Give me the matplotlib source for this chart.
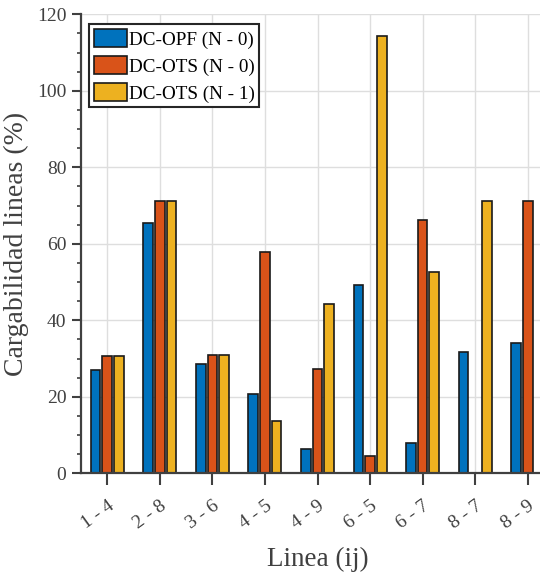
import numpy as np
from matplotlib import pyplot as plt

# Cargabilidad de lineas por caso
lineas = ['1 - 4', '2 - 8', '3 - 6', '4 - 5', '4 - 9', '6 - 5', '6 - 7', '8 - 7', '8 - 9']
opf_n0 = [26.9, 65.4, 28.5, 20.7, 6.4, 49.2, 7.8, 31.6, 34.0]
ots_n0 = [30.7, 71.2, 31.0, 57.8, 27.2, 4.4, 66.2, 0.0, 71.2]
ots_n1 = [30.7, 71.2, 31.0, 13.8, 44.2, 114.4, 52.7, 71.2, 0.0]
nombres = ['DC-OPF (N - 0)', 'DC-OTS (N - 0)', 'DC-OTS (N - 1)']

colores = ['#0072BD', '#D95319', '#EDB120']
gris = '#404040'

plt.rcParams['font.family'] = ['Liberation Serif', 'DejaVu Serif']

fig = plt.figure(figsize=(5.40, 5.77), dpi=100)
ax = fig.add_axes([0.150, 0.1797, 0.876, 0.7955])

x = np.arange(1, len(lineas) + 1)
ancho = 0.184
sep = 0.222
for k, serie in enumerate([opf_n0, ots_n0, ots_n1]):
    ax.bar(x + (k - 1) * sep, serie, ancho, color=colores[k], edgecolor='#1a1a1a',
           linewidth=1.2, label=nombres[k], zorder=3)

ax.set_xlim(0.5, 9.5)
ax.set_ylim(0, 120)
ax.set_xticks(x)
ax.set_xticklabels(lineas, rotation=36, ha='right', va='top', rotation_mode='anchor',
                   fontsize=14, color=gris)
ax.set_yticks(np.arange(0, 121, 20))
ax.set_yticks(np.arange(0, 121, 5), minor=True)
ax.tick_params(axis='y', labelsize=14, labelcolor=gris)

ax.tick_params(axis='y', which='major', direction='out', length=6.5, width=1.5, color=gris, pad=4)
ax.tick_params(axis='y', which='minor', direction='out', length=3, width=1.2, color=gris)
ax.tick_params(axis='x', which='major', direction='out', length=8.5, width=1.5, color=gris, pad=9)

ax.grid(True, which='major', color='#dedede', linewidth=1.0, zorder=0)
ax.set_axisbelow(True)

for lado in ['top', 'right']:
    ax.spines[lado].set_visible(False)
for lado in ['left', 'bottom']:
    ax.spines[lado].set_color(gris)
    ax.spines[lado].set_linewidth(1.6)
    ax.spines[lado].set_zorder(4)

ax.set_xlabel('Linea (ij)', fontsize=19.5, color=gris, labelpad=10)
ax.set_ylabel('Cargabilidad lineas (%)', fontsize=20, color=gris, labelpad=6)

leg = ax.legend(loc='upper left', bbox_to_anchor=(0.017, 0.979), borderaxespad=0,
                fontsize=13.8, handlelength=1.72, handleheight=1.1, handletextpad=0.1,
                labelspacing=0.38, borderpad=0.25, fancybox=False, framealpha=1)
leg.get_frame().set_edgecolor('#262626')
leg.get_frame().set_linewidth(1.5)

plt.savefig('out.png', dpi=100)
